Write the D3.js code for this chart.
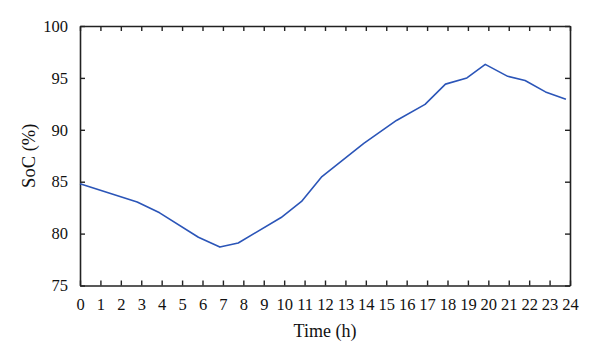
<!DOCTYPE html>
<html lang="en">
<head>
<meta charset="UTF-8">
<title>SoC</title>
<script src="https://cdn.jsdelivr.net/npm/d3@7"></script>
<style>
body{margin:0;background:#fff}
text{font-family:"Liberation Serif","DejaVu Serif",serif}
</style>
</head>
<body>
<div id="grafica"></div>
<script>
// data
hours=[0,2.8,3.9,5.8,6.85,7.75,9.85,10.85,11.85,13.9,15.5,16.9,17.9,18.95,19.85,20.95,21.8,22.8,23.8]
soc=[84.8,83.05,82.0,79.65,78.7,79.1,81.55,83.1,85.5,88.7,90.9,92.45,94.4,95.0,96.3,95.15,94.75,93.65,92.95]
xTicks=d3.range(0,25)
yTicks=[75,80,85,90,95,100]

ancho=600
alto=362
m={top:26,right:30,bottom:76.5,left:80}

svg=d3.select('#grafica')
	.append('svg')
	.attr('width',ancho)
	.attr('height',alto)

x=d3.scaleLinear().domain([0,24]).range([m.left,ancho-m.right])
y=d3.scaleLinear().domain([75,100]).range([alto-m.bottom,m.top])

function styleAxis(g){
	g.select('.domain').attr('stroke','#222').attr('stroke-width',1.6)
	g.selectAll('.tick line').attr('stroke','#222').attr('stroke-width',1.4)
	g.selectAll('.tick text').attr('fill','#111').style('font-size','16.5px')
}

svg.append('g')
	.attr('transform','translate(0,'+(alto-m.bottom)+')')
	.call(d3.axisBottom(x).tickValues(xTicks).tickSize(-5).tickPadding(13).tickSizeOuter(0))
	.call(styleAxis)
svg.append('g')
	.attr('transform','translate(0,'+m.top+')')
	.call(d3.axisTop(x).tickValues(xTicks).tickSize(-5).tickFormat('').tickSizeOuter(0))
	.call(styleAxis)
svg.append('g')
	.attr('transform','translate('+m.left+',0)')
	.call(d3.axisLeft(y).tickValues(yTicks).tickSize(-5).tickPadding(12).tickSizeOuter(0))
	.call(styleAxis)
svg.append('g')
	.attr('transform','translate('+(ancho-m.right)+',0)')
	.call(d3.axisRight(y).tickValues(yTicks).tickSize(-5).tickFormat('').tickSizeOuter(0))
	.call(styleAxis)

linea=d3.line().x(function(d,i){return x(hours[i])}).y(function(d){return y(d)})
svg.append('path')
	.datum(soc)
	.attr('d',linea)
	.attr('fill','none')
	.attr('stroke','#2b55b8')
	.attr('stroke-width',1.6)
	.attr('stroke-linejoin','round')

svg.append('text')
	.attr('x',(m.left+ancho-m.right)/2)
	.attr('y',336.5)
	.attr('text-anchor','middle')
	.style('font-size','18px')
	.attr('fill','#111')
	.text('Time (h)')

svg.append('text')
	.attr('transform','translate(35,'+((m.top+alto-m.bottom)/2)+') rotate(-90)')
	.attr('text-anchor','middle')
	.style('font-size','18.5px')
	.attr('fill','#111')
	.text('SoC (%)')
</script>
</body>
</html>
